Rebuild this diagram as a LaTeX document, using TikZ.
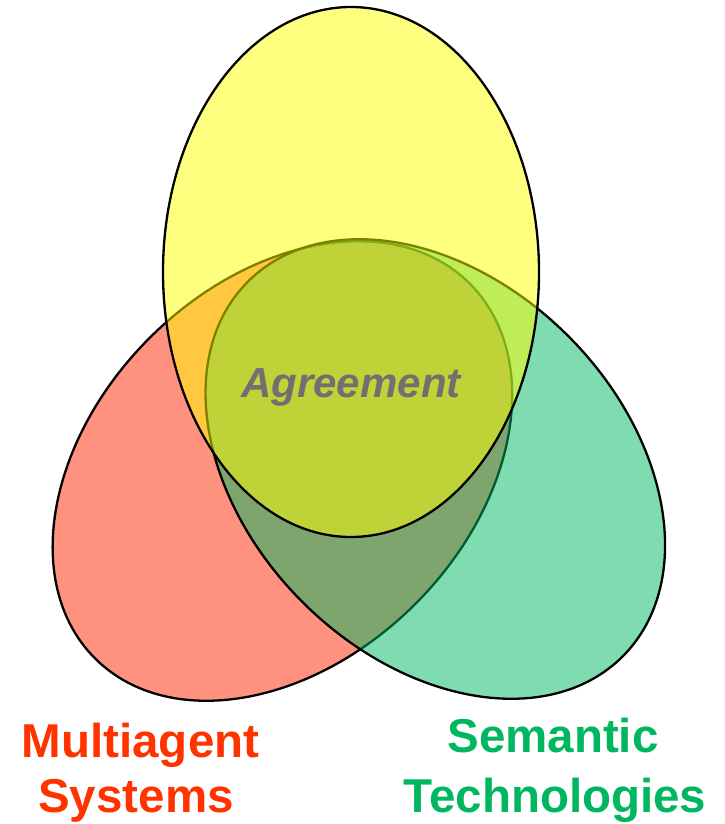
\documentclass[tikz,border=0pt]{standalone}
\usepackage{fontspec}
\setmainfont{Liberation Sans}
\definecolor{redfill}{RGB}{255,38,0}
\definecolor{greenfill}{RGB}{0,185,97}
\definecolor{yellowfill}{RGB}{255,255,0}
\definecolor{redtext}{RGB}{255,51,0}
\definecolor{greentext}{RGB}{0,183,96}
\definecolor{graytext}{RGB}{112,112,112}
\begin{document}
\begin{tikzpicture}[x=1pt,y=-1pt,
  blob/.style={draw=black, line width=2.3pt, fill opacity=0.5},
  lbl/.style={font=\bfseries\fontsize{47.5}{55}\selectfont, inner sep=0pt, anchor=base},
  agr/.style={font=\bfseries\itshape\fontsize{42}{48}\selectfont, inner sep=0pt, anchor=base, text=graytext}]
\useasboundingbox (0,0) rectangle (725,824);
% red set (Multiagent Systems)
\draw[blob, fill=redfill, rotate around={-45:(282.4,471)}] (282.4,471) ellipse [x radius=188pt, y radius=265pt];
% green set (Semantic Technologies)
\draw[blob, fill=greenfill, rotate around={45:(435.3,469)}] (435.3,469) ellipse [x radius=188pt, y radius=265pt];
% yellow set (Agreement)
\draw[blob, fill=yellowfill] (351,272) ellipse [x radius=188pt, y radius=265pt];
\node[agr] (agreement) at (351,397) {Agreement};
\node[lbl, text=redtext] (mas1) at (140.5,757) {Multiagent};
\node[lbl, text=redtext] (mas2) at (136,812) {Systems};
\node[lbl, text=greentext] (sem1) at (553,752) {Semantic};
\node[lbl, text=greentext] (sem2) at (555,812) {Technologies};
\end{tikzpicture}
\end{document}
